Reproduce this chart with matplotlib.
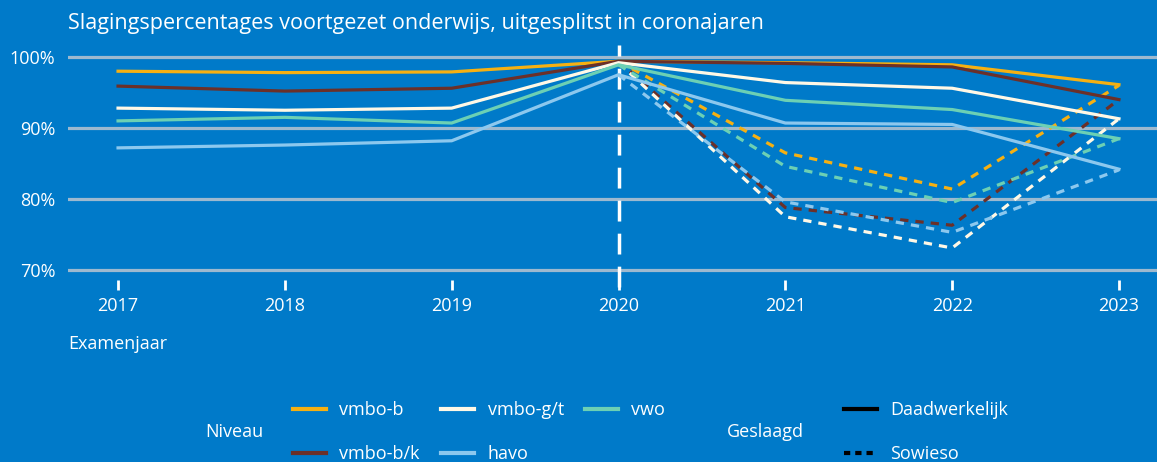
import matplotlib.pyplot as plt
from matplotlib.lines import Line2D
from matplotlib.ticker import FuncFormatter

plt.rcParams['font.family'] = ['Open Sans', 'DejaVu Sans']

# data
years = [2017, 2018, 2019, 2020, 2021, 2022, 2023]
corona_years = [2020, 2021, 2022, 2023]
niveaus = ['vmbo-b', 'vmbo-b/k', 'vmbo-g/t', 'havo', 'vwo']
kleuren = ['#F6B012', '#6B3029', '#FFF8E6', '#8CC8EE', '#6CD0B4']

daadwerkelijk = {
    'vmbo-b':   [98.0, 97.8, 97.9, 99.4, 99.2, 98.9, 96.1],
    'vmbo-b/k': [95.9, 95.2, 95.6, 99.4, 99.1, 98.6, 94.0],
    'vmbo-g/t': [92.8, 92.5, 92.8, 99.2, 96.4, 95.6, 91.3],
    'havo':     [87.2, 87.6, 88.2, 97.5, 90.7, 90.5, 84.2],
    'vwo':      [91.0, 91.5, 90.7, 98.9, 93.9, 92.6, 88.5],
}
sowieso = {
    'vmbo-b':   [99.4, 86.5, 81.4, 96.0],
    'vmbo-b/k': [99.4, 78.8, 76.3, 94.0],
    'vmbo-g/t': [99.2, 77.5, 73.1, 91.3],
    'havo':     [97.5, 79.6, 75.3, 84.1],
    'vwo':      [98.9, 84.6, 79.5, 88.5],
}

bg = '#007AC9'
fig = plt.figure(figsize=(11.57, 4.62), dpi=100, facecolor=bg)
ax = fig.add_axes([68 / 1157, 182 / 462, 1089 / 1157, 235 / 462], facecolor=bg)

for y in [70, 80, 90, 100]:
    ax.axhline(y, color='#9DB9CF', lw=2.3, zorder=1)

ax.axvline(2020, ymin=-0.03, ymax=1, color='white', lw=2.5,
           dashes=(6, 3.5), clip_on=False, zorder=2)

for naam, kleur in zip(niveaus, kleuren):
    ax.plot(corona_years, sowieso[naam], color=kleur, lw=2.3,
            dashes=(2.6, 2.2), zorder=3)
for naam, kleur in zip(niveaus, kleuren):
    ax.plot(years, daadwerkelijk[naam], color=kleur, lw=2.3, zorder=4)

ax.set_xlim(2016.70, 2023.228)
ax.set_ylim(68.59, 101.69)
ax.set_xticks(years)
ax.set_yticks([70, 80, 90, 100])
ax.yaxis.set_major_formatter(FuncFormatter(lambda v, p: f'{v:.0f}%'))
for s in ax.spines.values():
    s.set_visible(False)
ax.tick_params(axis='x', colors='white', length=7, width=2, labelsize=13, pad=5)
ax.tick_params(axis='y', colors='white', length=0, labelsize=13, pad=9)
for lab in ax.get_xticklabels() + ax.get_yticklabels():
    lab.set_color('white')

fig.text(68 / 1157, 1 - 24 / 462, 'Slagingspercentages voortgezet onderwijs, uitgesplitst in coronajaren',
         color='white', fontsize=15.5, va='center', ha='left')
fig.text(68 / 1157, 1 - 344 / 462, 'Examenjaar', color='white', fontsize=13,
         va='center', ha='left')

# legend Niveau
fig.text(205 / 1157, 1 - 432 / 462, 'Niveau', color='white', fontsize=13,
         va='center', ha='left')
handles1 = [Line2D([], [], color=k, lw=3) for k in kleuren]
leg1 = fig.legend(handles1, niveaus, ncol=3, loc='center left',
                  bbox_to_anchor=(277 / 1157, 1 - 432 / 462), frameon=False,
                  fontsize=13, labelcolor='white', handlelength=1.8,
                  handletextpad=0.75, columnspacing=1.2, labelspacing=1.45)

fig.text(727 / 1157, 1 - 432 / 462, 'Geslaagd', color='white', fontsize=13,
         va='center', ha='left')
handles2 = [Line2D([], [], color='black', lw=3),
            Line2D([], [], color='black', lw=3, dashes=(1.5, 1.2))]
leg2 = fig.legend(handles2, ['Daadwerkelijk', 'Sowieso'], ncol=1, loc='center left',
                  bbox_to_anchor=(828 / 1157, 1 - 432 / 462), frameon=False,
                  fontsize=13, labelcolor='white', handlelength=1.8,
                  handletextpad=0.75, labelspacing=1.45)

fig.savefig('out.png', dpi=100, facecolor=bg)
